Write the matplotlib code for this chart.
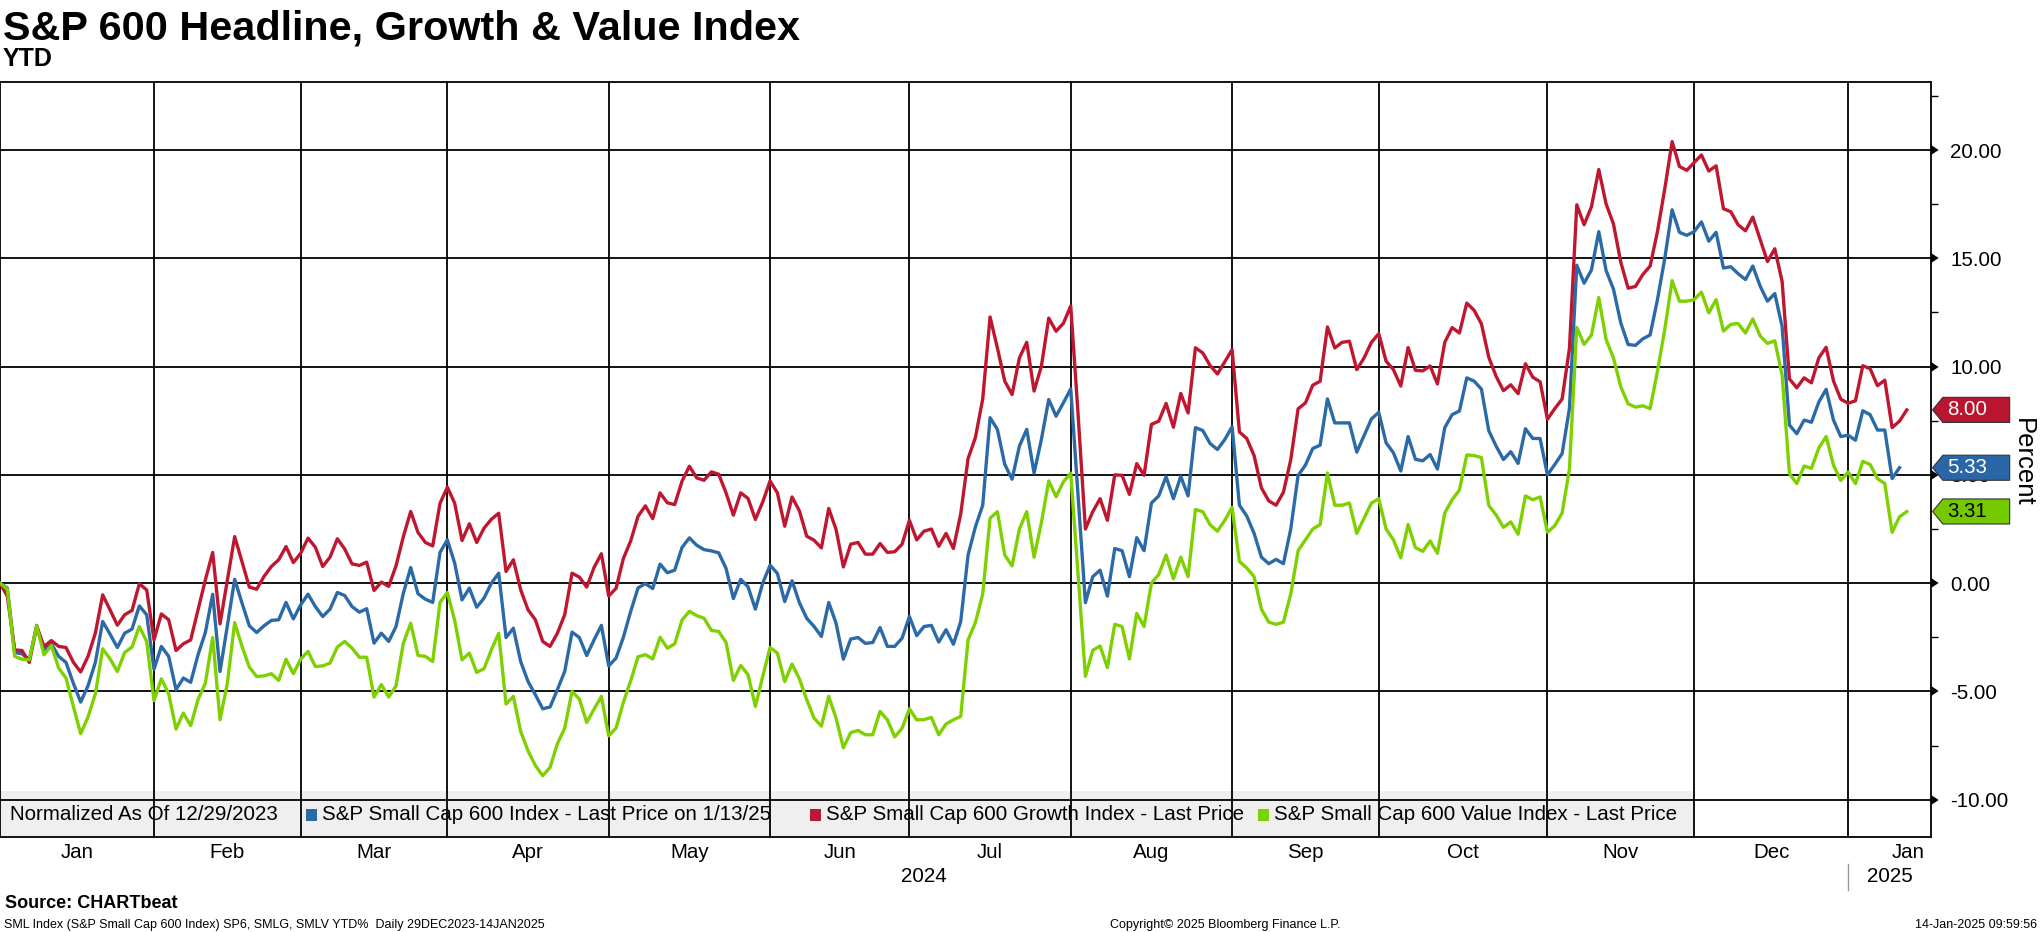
import matplotlib
matplotlib.use("Agg")
import matplotlib.pyplot as plt
import matplotlib.transforms as mtransforms
from matplotlib.path import Path
from matplotlib.patches import Rectangle
import matplotlib.markers as mmarkers
import numpy as np

plt.rcParams['font.family'] = ['Liberation Sans', 'DejaVu Sans']
plt.rcParams['axes.unicode_minus'] = False

# ---------------- data (trading-day index 0 = 29 Dec 2023) ----------------
growth = [0.00, -0.6, -3.08, -3.11, -3.66, -2.0, -2.92, -2.65, -2.92, -2.97,
          -3.65, -4.1, -3.38, -2.31, -0.54, -1.23, -1.94, -1.46, -1.26, -0.03,
          -0.31, -2.62, -1.42, -1.69, -3.11, -2.8, -2.62, -1.23, 0.15, 1.42,
          -1.88, 0.15, 2.15, 0.98, -0.18, -0.28, 0.31, 0.77, 1.08, 1.69,
          0.95, 1.38, 2.08, 1.66, 0.77, 1.2, 2.05, 1.58, 0.89, 0.82,
          0.97, -0.34, 0.05, -0.15, 0.8, 2.15, 3.31, 2.34, 1.88, 1.72,
          3.69, 4.43, 3.69, 1.97, 2.74, 1.88, 2.54, 2.95, 3.23, 0.54,
          1.08, -0.31, -1.23, -1.69, -2.69, -2.92, -2.31, -1.46, 0.46, 0.28,
          -0.18, 0.72, 1.36, -0.59, -0.24, 1.14, 1.95, 3.09, 3.57, 2.98,
          4.17, 3.71, 3.63, 4.71, 5.4, 4.86, 4.75, 5.14, 5.03, 4.17,
          3.14, 4.17, 3.91, 2.94, 3.75, 4.72, 4.17, 2.63, 3.98, 3.34,
          2.17, 1.98, 1.63, 3.45, 2.48, 0.75, 1.8, 1.88, 1.34, 1.34,
          1.83, 1.42, 1.45, 1.8, 2.9, 2.0, 2.4, 2.5, 1.7, 2.3,
          1.6, 3.2, 5.75, 6.72, 8.51, 12.29, 10.86, 9.33, 8.71, 10.4,
          11.12, 8.87, 10.02, 12.24, 11.63, 12.0, 12.8, 7.8, 2.5, 3.3,
          3.9, 2.9, 5.0, 4.98, 4.1, 5.52, 4.98, 7.33, 7.48, 8.3,
          7.2, 8.76, 7.86, 10.87, 10.63, 10.05, 9.66, 10.22, 10.78, 6.98,
          6.68, 5.89, 4.4, 3.8, 3.6, 4.2, 5.7, 8.05, 8.32, 9.14,
          9.32, 11.83, 10.86, 11.12, 11.17, 9.86, 10.4, 11.12, 11.52, 10.25,
          9.86, 9.1, 10.88, 9.83, 9.8, 10.03, 9.2, 11.12, 11.8, 11.55,
          12.93, 12.6, 11.97, 10.43, 9.55, 8.89, 9.16, 8.75, 10.13, 9.51,
          9.3, 7.57, 8.06, 8.5, 10.84, 17.47, 16.55, 17.38, 19.1, 17.51,
          16.59, 14.82, 13.62, 13.7, 14.25, 14.64, 16.23, 18.21, 20.39, 19.24,
          19.06, 19.42, 19.77, 19.03, 19.27, 17.29, 17.15, 16.55, 16.27, 16.9,
          15.88, 14.85, 15.44, 13.93, 9.43, 9.02, 9.48, 9.25, 10.4, 10.89,
          9.34, 8.49, 8.31, 8.42, 10.04, 9.9, 9.12, 9.37, 7.18, 7.48,
          8.00]

headline = [0.0, -0.23, -3.2, -3.26, -3.54, -1.95, -3.08, -2.8, -3.38, -3.66,
            -4.62, -5.49, -4.74, -3.66, -1.77, -2.35, -2.97, -2.31, -2.12, -1.05,
            -1.46, -3.97, -2.92, -3.38, -4.92, -4.38, -4.58, -3.31, -2.28, -0.51,
            -4.08, -1.97, 0.18, -0.92, -1.97, -2.28, -1.97, -1.72, -1.69, -0.89,
            -1.65, -1.0, -0.51, -1.08, -1.54, -1.2, -0.43, -0.57, -1.08, -1.34,
            -1.18, -2.77, -2.31, -2.69, -2.0, -0.46, 0.72, -0.49, -0.74, -0.89,
            1.42, 2.0, 0.92, -0.77, -0.23, -1.11, -0.69, 0.0, 0.46, -2.51,
            -2.08, -3.62, -4.54, -5.15, -5.8, -5.72, -4.92, -4.08, -2.26, -2.51,
            -3.34, -2.62, -1.95, -3.82, -3.46, -2.5, -1.3, -0.22, -0.02, -0.25,
            0.88, 0.48, 0.6, 1.65, 2.09, 1.75, 1.55, 1.49, 1.4, 0.68,
            -0.71, 0.18, -0.17, -1.2, 0.0, 0.83, 0.45, -0.85, 0.11, -0.9,
            -1.62, -2.0, -2.46, -0.89, -1.85, -3.51, -2.58, -2.51, -2.78, -2.74,
            -2.05, -2.92, -2.92, -2.54, -1.54, -2.42, -2.0, -1.95, -2.72, -2.15,
            -2.82, -1.77, 1.3, 2.6, 3.6, 7.64, 7.1, 5.49, 4.8, 6.33,
            7.1, 5.08, 6.64, 8.48, 7.71, 8.33, 8.97, 4.0, -0.9, 0.3,
            0.6, -0.6, 1.6, 1.5, 0.3, 2.1, 1.5, 3.7, 4.03, 4.92,
            3.9, 4.93, 4.03, 7.18, 7.05, 6.45, 6.17, 6.63, 7.22, 3.6,
            3.1, 2.3, 1.2, 0.9, 1.1, 0.9, 2.5, 4.97, 5.45, 6.22,
            6.37, 8.51, 7.4, 7.4, 7.4, 6.05, 6.82, 7.58, 7.89, 6.48,
            6.02, 5.18, 6.77, 5.72, 5.65, 5.94, 5.27, 7.18, 7.78, 7.95,
            9.48, 9.33, 8.96, 7.04, 6.33, 5.71, 6.07, 5.53, 7.13, 6.68,
            6.68, 5.0, 5.48, 5.98, 8.06, 14.68, 13.85, 14.46, 16.23, 14.43,
            13.58, 12.02, 11.02, 10.98, 11.28, 11.46, 13.09, 15.0, 17.24, 16.2,
            16.06, 16.23, 16.68, 15.79, 16.2, 14.55, 14.61, 14.29, 14.02, 14.64,
            13.72, 13.02, 13.37, 11.85, 7.3, 6.9, 7.53, 7.43, 8.36, 8.95,
            7.53, 6.77, 6.83, 6.6, 7.96, 7.78, 7.07, 7.07, 4.83, 5.33]

value = [0.0, -0.28, -3.38, -3.51, -3.54, -1.97, -3.31, -2.88, -3.92, -4.38,
         -5.69, -6.95, -6.18, -5.11, -3.03, -3.49, -4.08, -3.2, -2.95, -2.0,
         -2.69, -5.42, -4.42, -5.11, -6.74, -6.0, -6.58, -5.38, -4.62, -2.51,
         -6.31, -4.62, -1.82, -2.92, -3.88, -4.31, -4.28, -4.18, -4.49, -3.51,
         -4.18, -3.51, -3.15, -3.85, -3.82, -3.69, -2.95, -2.69, -3.0, -3.42,
         -3.42, -5.26, -4.68, -5.26, -4.74, -2.77, -1.85, -3.34, -3.38, -3.62,
         -0.89, -0.43, -1.72, -3.54, -3.23, -4.12, -3.95, -3.08, -2.31, -5.58,
         -5.23, -6.85, -7.74, -8.42, -8.89, -8.51, -7.42, -6.69, -5.0, -5.35,
         -6.43, -5.82, -5.23, -7.05, -6.69, -5.5, -4.5, -3.4, -3.3, -3.5,
         -2.5, -3.0, -2.8, -1.7, -1.3, -1.5, -1.62, -2.18, -2.23, -2.74,
         -4.49, -3.8, -4.23, -5.69, -4.31, -2.97, -3.23, -4.54, -3.74, -4.42,
         -5.38, -6.23, -6.6, -5.23, -6.23, -7.6, -6.9, -6.8, -7.0, -7.0,
         -5.92, -6.31, -7.1, -6.7, -5.8, -6.31, -6.3, -6.2, -7.0, -6.5,
         -6.31, -6.15, -2.62, -1.82, -0.5, 3.0, 3.3, 1.3, 0.8, 2.5,
         3.3, 1.2, 2.8, 4.72, 3.99, 4.68, 5.08, 0.4, -4.3, -3.1,
         -2.9, -3.9, -1.9, -2.0, -3.5, -1.4, -2.0, 0.0, 0.4, 1.3,
         0.2, 1.2, 0.3, 3.4, 3.3, 2.7, 2.4, 2.9, 3.5, 1.0,
         0.7, 0.3, -1.2, -1.8, -1.9, -1.8, -0.5, 1.5, 2.0, 2.5,
         2.7, 5.09, 3.6, 3.6, 3.7, 2.3, 3.0, 3.7, 3.9, 2.5,
         2.0, 1.17, 2.71, 1.64, 1.47, 1.95, 1.38, 3.24, 3.85, 4.3,
         5.92, 5.89, 5.8, 3.59, 3.15, 2.58, 2.83, 2.26, 4.03, 3.85,
         3.98, 2.35, 2.65, 3.24, 5.27, 11.81, 11.02, 11.46, 13.19, 11.25,
         10.4, 9.07, 8.28, 8.13, 8.19, 8.06, 9.78, 11.72, 13.97, 13.02,
         13.02, 13.09, 13.44, 12.48, 13.09, 11.64, 11.95, 11.99, 11.55, 12.2,
         11.42, 11.07, 11.19, 9.6, 5.06, 4.6, 5.41, 5.3, 6.24, 6.77,
         5.45, 4.74, 5.13, 4.6, 5.62, 5.48, 4.83, 4.6, 2.35, 3.06,
         3.31]

series_names = ["S&P Small Cap 600 Index - Last Price on 1/13/25",
                "S&P Small Cap 600 Growth Index - Last Price",
                "S&P Small Cap 600 Value Index - Last Price"]
last_labels = ["5.33", "8.00", "3.31"]

# month-end trading-day positions (gridlines) and month labels
month_ends = [21, 41, 61, 83, 105, 124, 146, 168, 188, 211, 231, 252]
month_labels = ["Jan", "Feb", "Mar", "Apr", "May", "Jun", "Jul", "Aug",
                "Sep", "Oct", "Nov", "Dec", "Jan"]
year_labels = ["2024", "2025"]
y_ticks = [-10, -5, 0, 5, 10, 15, 20]

# ---------------- style ----------------
c_blue = "#2b6aa6"
c_red = "#bf1730"
c_green = "#7fd000"
box_blue = "#2a66a6"
box_red = "#b8152e"
box_green = "#74c800"

W, H = 2041, 932
fig = plt.figure(figsize=(W / 100, H / 100), dpi=100)
ax_left, ax_right, ax_top, ax_bot = 0, 1931, 82, 837
ax = fig.add_axes([ax_left / W, 1 - ax_bot / H, (ax_right - ax_left) / W,
                   (ax_bot - ax_top) / H])

x_end = 263.3
ax.set_xlim(0, x_end)
ax.set_ylim(-11.72, 23.14)

lw = 2.4
ax.plot(np.arange(len(headline)), headline, color=c_blue, lw=lw, zorder=3)
ax.plot(np.arange(len(growth)), growth, color=c_red, lw=lw, zorder=3)
ax.plot(np.arange(len(value)), value, color=c_green, lw=lw, zorder=3)

# grid
for yv in y_ticks:
    ax.axhline(yv, color="black", lw=1.3, zorder=1.5)
for xv in month_ends:
    ax.axvline(xv, color="black", lw=1.3, zorder=1.5)

for s in ["left", "top", "bottom", "right"]:
    ax.spines[s].set_linewidth(1.3)
    ax.spines[s].set_color("black")

# y axis on right
ax.yaxis.tick_right()
ax.set_yticks(y_ticks)
ax.set_yticklabels(["%.2f" % v for v in y_ticks])
ax.set_yticks(np.arange(-10, 23, 2.5), minor=True)
ax.tick_params(axis="y", which="major", length=6, width=1.3, pad=8,
               labelsize=14.8, right=True, left=False)
ax.tick_params(axis="y", which="minor", length=5, width=1, right=True,
               left=False)
for t in ax.yaxis.get_major_ticks():
    t.tick2line.set_marker(mmarkers.CARETRIGHTBASE)
    t.tick2line.set_markersize(6)
    t.tick2line.set_markerfacecolor("black")

# x axis: month labels centred between month ends
ax.set_xticks([0] + month_ends)
ax.set_xticklabels([])
ax.tick_params(axis="x", which="major", length=0)
bounds = [0] + month_ends + [x_end]
centers = [(bounds[i] + bounds[i + 1]) / 2 for i in range(len(bounds) - 1)]
centers[-1] = (month_ends[-1] + x_end) / 2 + 2.6
xtrans = mtransforms.blended_transform_factory(ax.transData, fig.transFigure)
for cx, lab in zip(centers, month_labels):
    ax.text(cx, 1 - 853 / H, lab, transform=xtrans, ha="center", va="center",
            fontsize=14.8)
ax.text(month_ends[-1] / 2, 1 - 877 / H, year_labels[0], transform=xtrans,
        ha="center", va="center", fontsize=14.8)
ax.text((month_ends[-1] + x_end) / 2, 1 - 877 / H, year_labels[1],
        transform=xtrans, ha="center", va="center", fontsize=14.8)
ax.plot([month_ends[-1], month_ends[-1]], [1 - 864 / H, 1 - 890 / H],
        transform=xtrans, color="#999999", lw=1, clip_on=False)

# legend band inside the axes
ax.add_patch(Rectangle((0, 0), 1693 / 1931, 46 / 755, transform=ax.transAxes,
                       facecolor="#efefef", edgecolor="none", zorder=1))
ly = 22 / 755
ax.text(10 / 1931, ly, "Normalized As Of 12/29/2023", transform=ax.transAxes,
        ha="left", va="center", fontsize=14.8, zorder=4)
for px, col, name in zip([306, 810, 1258], [c_blue, c_red, c_green],
                         series_names):
    ax.add_patch(Rectangle((px / 1931, ly - 6 / 755), 11 / 1931, 12 / 755,
                           transform=ax.transAxes, facecolor=col,
                           edgecolor="none", zorder=4))
    ax.text((px + 16) / 1931, ly, name, transform=ax.transAxes, ha="left",
            va="center", fontsize=14.8, zorder=4)


# last-value tags on the right
def tag_box(x0, y0, width, height, mutation_size):
    ms = mutation_size
    left = x0 - 0.2 * ms
    right = left + 3.25 * ms
    cy = y0 + height / 2
    h = 1.22 * ms
    tip = 0.5 * ms
    verts = [(left - tip, cy), (left, cy - h / 2), (right, cy - h / 2),
             (right, cy + h / 2), (left, cy + h / 2), (left - tip, cy),
             (left - tip, cy)]
    codes = [Path.MOVETO] + [Path.LINETO] * 5 + [Path.CLOSEPOLY]
    return Path(verts, codes)


for val, lab, fc, tc in zip([headline[-1], growth[-1], value[-1]], last_labels,
                            [box_blue, box_red, box_green],
                            ["white", "white", "black"]):
    ax.annotate(lab, xy=(1, val), xycoords=("axes fraction", "data"),
                xytext=(11.5, 0), textcoords="offset points", ha="left",
                va="center", fontsize=14.8, color=tc, annotation_clip=False,
                bbox=dict(boxstyle=tag_box, facecolor=fc, edgecolor="#333333",
                          linewidth=0.8), zorder=6)

fig.text(2023 / W, 1 - 462 / H, "Percent", rotation=-90, ha="center",
         va="center", fontsize=18.5)

# titles
fig.text(3 / W, 1 - 39 / H, "S&P 600 Headline, Growth & Value Index",
         fontsize=29.8, fontweight="bold", ha="left", va="baseline")
fig.text(3 / W, 1 - 66 / H, "YTD", fontsize=18, fontweight="bold",
         ha="left", va="baseline")

# footer
fig.text(5 / W, 1 - 908 / H, "Source: CHARTbeat", fontsize=13,
         fontweight="bold", ha="left", va="baseline")
fig.text(4 / W, 1 - 928 / H,
         "SML Index (S&P Small Cap 600 Index) SP6, SMLG, SMLV YTD%  Daily 29DEC2023-14JAN2025",
         fontsize=9, ha="left", va="baseline")
fig.text(1225 / W, 1 - 928 / H, "Copyright\u00a9 2025 Bloomberg Finance L.P.",
         fontsize=9, ha="center", va="baseline")
fig.text(2037 / W, 1 - 928 / H, "14-Jan-2025 09:59:56", fontsize=9,
         ha="right", va="baseline")

fig.savefig("out.png", dpi=100, facecolor="white")
